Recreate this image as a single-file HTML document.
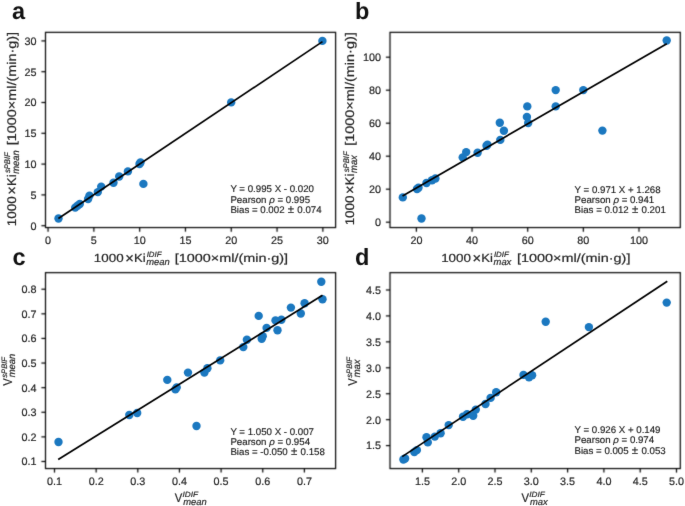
<!DOCTYPE html>
<html><head><meta charset="utf-8"><style>
html,body{margin:0;padding:0;background:#fff;}
svg{display:block;will-change:transform;}
text{text-rendering:geometricPrecision;font-family:"Liberation Sans", sans-serif;fill:#262626;stroke:#262626;stroke-width:0.2px;}
.tk{font-size:10.8px;}
.ann{font-size:9.7px;fill:#1a1a1a;stroke:#1a1a1a;stroke-width:0.15px;}
.pl{font-size:23.5px;font-weight:bold;fill:#111;stroke:none;}
.al{font-size:12.2px;}
.ss{font-size:8.0px;font-style:italic;}
.ss2{font-size:9.6px;font-style:italic;}
</style></head><body>
<svg xmlns="http://www.w3.org/2000/svg" width="685" height="506" viewBox="0 0 685 506">
<defs><filter id="bl" x="0" y="0" width="685" height="506" filterUnits="userSpaceOnUse" color-interpolation-filters="sRGB"><feConvolveMatrix order="3" kernelMatrix="0.0277 0.1110 0.0277 0.1110 0.4452 0.1110 0.0277 0.1110 0.0277" edgeMode="duplicate"/></filter>
<filter id="bt" x="0" y="0" width="685" height="506" filterUnits="userSpaceOnUse" color-interpolation-filters="sRGB"><feConvolveMatrix order="3" kernelMatrix="0.0052 0.0619 0.0052 0.0619 0.7314 0.0619 0.0052 0.0619 0.0052" edgeMode="none"/></filter></defs>
<g filter="url(#bl)">
<rect width="685" height="506" fill="#fff"/>
<rect x="45.5" y="32.35" width="290.1" height="195.2" fill="none" stroke="#000" stroke-width="1.2"/>
<line x1="48.06" y1="227.55" x2="48.06" y2="231.65" stroke="#000" stroke-width="1.2"/>
<line x1="93.86" y1="227.55" x2="93.86" y2="231.65" stroke="#000" stroke-width="1.2"/>
<line x1="139.66" y1="227.55" x2="139.66" y2="231.65" stroke="#000" stroke-width="1.2"/>
<line x1="185.46" y1="227.55" x2="185.46" y2="231.65" stroke="#000" stroke-width="1.2"/>
<line x1="231.26" y1="227.55" x2="231.26" y2="231.65" stroke="#000" stroke-width="1.2"/>
<line x1="277.06" y1="227.55" x2="277.06" y2="231.65" stroke="#000" stroke-width="1.2"/>
<line x1="322.86" y1="227.55" x2="322.86" y2="231.65" stroke="#000" stroke-width="1.2"/>
<line x1="41.40" y1="225.70" x2="45.5" y2="225.70" stroke="#000" stroke-width="1.2"/>
<line x1="41.40" y1="194.90" x2="45.5" y2="194.90" stroke="#000" stroke-width="1.2"/>
<line x1="41.40" y1="164.10" x2="45.5" y2="164.10" stroke="#000" stroke-width="1.2"/>
<line x1="41.40" y1="133.30" x2="45.5" y2="133.30" stroke="#000" stroke-width="1.2"/>
<line x1="41.40" y1="102.50" x2="45.5" y2="102.50" stroke="#000" stroke-width="1.2"/>
<line x1="41.40" y1="71.70" x2="45.5" y2="71.70" stroke="#000" stroke-width="1.2"/>
<line x1="41.40" y1="40.90" x2="45.5" y2="40.90" stroke="#000" stroke-width="1.2"/>
<rect x="390.0" y="32.35" width="290.3" height="195.2" fill="none" stroke="#000" stroke-width="1.2"/>
<line x1="416.40" y1="227.55" x2="416.40" y2="231.65" stroke="#000" stroke-width="1.2"/>
<line x1="472.05" y1="227.55" x2="472.05" y2="231.65" stroke="#000" stroke-width="1.2"/>
<line x1="527.70" y1="227.55" x2="527.70" y2="231.65" stroke="#000" stroke-width="1.2"/>
<line x1="583.35" y1="227.55" x2="583.35" y2="231.65" stroke="#000" stroke-width="1.2"/>
<line x1="639.00" y1="227.55" x2="639.00" y2="231.65" stroke="#000" stroke-width="1.2"/>
<line x1="385.90" y1="222.20" x2="390.0" y2="222.20" stroke="#000" stroke-width="1.2"/>
<line x1="385.90" y1="189.20" x2="390.0" y2="189.20" stroke="#000" stroke-width="1.2"/>
<line x1="385.90" y1="156.20" x2="390.0" y2="156.20" stroke="#000" stroke-width="1.2"/>
<line x1="385.90" y1="123.20" x2="390.0" y2="123.20" stroke="#000" stroke-width="1.2"/>
<line x1="385.90" y1="90.20" x2="390.0" y2="90.20" stroke="#000" stroke-width="1.2"/>
<line x1="385.90" y1="57.20" x2="390.0" y2="57.20" stroke="#000" stroke-width="1.2"/>
<rect x="45.5" y="272.65" width="290.1" height="195.9" fill="none" stroke="#000" stroke-width="1.2"/>
<line x1="54.50" y1="468.5" x2="54.50" y2="472.60" stroke="#000" stroke-width="1.2"/>
<line x1="96.15" y1="468.5" x2="96.15" y2="472.60" stroke="#000" stroke-width="1.2"/>
<line x1="137.80" y1="468.5" x2="137.80" y2="472.60" stroke="#000" stroke-width="1.2"/>
<line x1="179.45" y1="468.5" x2="179.45" y2="472.60" stroke="#000" stroke-width="1.2"/>
<line x1="221.10" y1="468.5" x2="221.10" y2="472.60" stroke="#000" stroke-width="1.2"/>
<line x1="262.75" y1="468.5" x2="262.75" y2="472.60" stroke="#000" stroke-width="1.2"/>
<line x1="304.40" y1="468.5" x2="304.40" y2="472.60" stroke="#000" stroke-width="1.2"/>
<line x1="41.40" y1="461.49" x2="45.5" y2="461.49" stroke="#000" stroke-width="1.2"/>
<line x1="41.40" y1="436.88" x2="45.5" y2="436.88" stroke="#000" stroke-width="1.2"/>
<line x1="41.40" y1="412.27" x2="45.5" y2="412.27" stroke="#000" stroke-width="1.2"/>
<line x1="41.40" y1="387.66" x2="45.5" y2="387.66" stroke="#000" stroke-width="1.2"/>
<line x1="41.40" y1="363.05" x2="45.5" y2="363.05" stroke="#000" stroke-width="1.2"/>
<line x1="41.40" y1="338.44" x2="45.5" y2="338.44" stroke="#000" stroke-width="1.2"/>
<line x1="41.40" y1="313.83" x2="45.5" y2="313.83" stroke="#000" stroke-width="1.2"/>
<line x1="41.40" y1="289.22" x2="45.5" y2="289.22" stroke="#000" stroke-width="1.2"/>
<rect x="390.0" y="272.65" width="290.3" height="195.9" fill="none" stroke="#000" stroke-width="1.2"/>
<line x1="422.40" y1="468.5" x2="422.40" y2="472.60" stroke="#000" stroke-width="1.2"/>
<line x1="458.70" y1="468.5" x2="458.70" y2="472.60" stroke="#000" stroke-width="1.2"/>
<line x1="495.00" y1="468.5" x2="495.00" y2="472.60" stroke="#000" stroke-width="1.2"/>
<line x1="531.30" y1="468.5" x2="531.30" y2="472.60" stroke="#000" stroke-width="1.2"/>
<line x1="567.60" y1="468.5" x2="567.60" y2="472.60" stroke="#000" stroke-width="1.2"/>
<line x1="603.90" y1="468.5" x2="603.90" y2="472.60" stroke="#000" stroke-width="1.2"/>
<line x1="640.20" y1="468.5" x2="640.20" y2="472.60" stroke="#000" stroke-width="1.2"/>
<line x1="676.50" y1="468.5" x2="676.50" y2="472.60" stroke="#000" stroke-width="1.2"/>
<line x1="385.90" y1="445.59" x2="390.0" y2="445.59" stroke="#000" stroke-width="1.2"/>
<line x1="385.90" y1="419.66" x2="390.0" y2="419.66" stroke="#000" stroke-width="1.2"/>
<line x1="385.90" y1="393.73" x2="390.0" y2="393.73" stroke="#000" stroke-width="1.2"/>
<line x1="385.90" y1="367.79" x2="390.0" y2="367.79" stroke="#000" stroke-width="1.2"/>
<line x1="385.90" y1="341.86" x2="390.0" y2="341.86" stroke="#000" stroke-width="1.2"/>
<line x1="385.90" y1="315.92" x2="390.0" y2="315.92" stroke="#000" stroke-width="1.2"/>
<line x1="385.90" y1="289.99" x2="390.0" y2="289.99" stroke="#000" stroke-width="1.2"/>
</g>
<g filter="url(#bt)">
<circle cx="58.5" cy="218.5" r="4.2" fill="#1b78c0" class="pt"/>
<circle cx="75.2" cy="207.6" r="4.2" fill="#1b78c0" class="pt"/>
<circle cx="77.5" cy="205.8" r="4.2" fill="#1b78c0" class="pt"/>
<circle cx="79.8" cy="204.0" r="4.2" fill="#1b78c0" class="pt"/>
<circle cx="88.1" cy="199.0" r="4.2" fill="#1b78c0" class="pt"/>
<circle cx="89.5" cy="195.6" r="4.2" fill="#1b78c0" class="pt"/>
<circle cx="97.8" cy="192.1" r="4.2" fill="#1b78c0" class="pt"/>
<circle cx="101.2" cy="186.6" r="4.2" fill="#1b78c0" class="pt"/>
<circle cx="113.5" cy="182.8" r="4.2" fill="#1b78c0" class="pt"/>
<circle cx="119.2" cy="176.5" r="4.2" fill="#1b78c0" class="pt"/>
<circle cx="127.9" cy="171.4" r="4.2" fill="#1b78c0" class="pt"/>
<circle cx="139.5" cy="164.0" r="4.2" fill="#1b78c0" class="pt"/>
<circle cx="140.5" cy="162.5" r="4.2" fill="#1b78c0" class="pt"/>
<circle cx="143.4" cy="183.9" r="4.2" fill="#1b78c0" class="pt"/>
<circle cx="231.2" cy="102.4" r="4.2" fill="#1b78c0" class="pt"/>
<circle cx="322.4" cy="40.9" r="4.2" fill="#1b78c0" class="pt"/>
<line x1="58.4" y1="218.5" x2="322.5" y2="41.6" stroke="#000" stroke-width="1.7" stroke-linecap="butt" class="rl"/>
<text x="48.06" y="244.15" text-anchor="middle" class="tk">0</text>
<text x="93.86" y="244.15" text-anchor="middle" class="tk">5</text>
<text x="139.66" y="244.15" text-anchor="middle" class="tk">10</text>
<text x="185.46" y="244.15" text-anchor="middle" class="tk">15</text>
<text x="231.26" y="244.15" text-anchor="middle" class="tk">20</text>
<text x="277.06" y="244.15" text-anchor="middle" class="tk">25</text>
<text x="322.86" y="244.15" text-anchor="middle" class="tk">30</text>
<text x="36.50" y="229.60" text-anchor="end" class="tk">0</text>
<text x="36.50" y="198.80" text-anchor="end" class="tk">5</text>
<text x="36.50" y="168.00" text-anchor="end" class="tk">10</text>
<text x="36.50" y="137.20" text-anchor="end" class="tk">15</text>
<text x="36.50" y="106.40" text-anchor="end" class="tk">20</text>
<text x="36.50" y="75.60" text-anchor="end" class="tk">25</text>
<text x="36.50" y="44.80" text-anchor="end" class="tk">30</text>
<text x="230.4" y="191.7" class="ann">Y = 0.995 X - 0.020</text>
<text x="230.4" y="202.5" class="ann">Pearson <tspan font-style="italic">ρ</tspan> = 0.995</text>
<text x="230.4" y="213.0" class="ann">Bias = 0.002 <tspan dx="0.5" style="font-size:11.5px">±</tspan> <tspan dx="0.6">0.074</tspan></text>
<circle cx="402.8" cy="197.4" r="4.2" fill="#1b78c0" class="pt"/>
<circle cx="421.5" cy="218.5" r="4.2" fill="#1b78c0" class="pt"/>
<circle cx="418.5" cy="187.8" r="4.2" fill="#1b78c0" class="pt"/>
<circle cx="417.0" cy="189.0" r="4.2" fill="#1b78c0" class="pt"/>
<circle cx="426.5" cy="183.0" r="4.2" fill="#1b78c0" class="pt"/>
<circle cx="432.0" cy="180.2" r="4.2" fill="#1b78c0" class="pt"/>
<circle cx="435.4" cy="178.5" r="4.2" fill="#1b78c0" class="pt"/>
<circle cx="462.7" cy="157.4" r="4.2" fill="#1b78c0" class="pt"/>
<circle cx="466.2" cy="152.1" r="4.2" fill="#1b78c0" class="pt"/>
<circle cx="477.6" cy="152.8" r="4.2" fill="#1b78c0" class="pt"/>
<circle cx="486.5" cy="145.8" r="4.2" fill="#1b78c0" class="pt"/>
<circle cx="487.5" cy="144.6" r="4.2" fill="#1b78c0" class="pt"/>
<circle cx="500.3" cy="139.9" r="4.2" fill="#1b78c0" class="pt"/>
<circle cx="503.9" cy="130.7" r="4.2" fill="#1b78c0" class="pt"/>
<circle cx="499.8" cy="122.7" r="4.2" fill="#1b78c0" class="pt"/>
<circle cx="527.3" cy="106.4" r="4.2" fill="#1b78c0" class="pt"/>
<circle cx="526.9" cy="116.9" r="4.2" fill="#1b78c0" class="pt"/>
<circle cx="528.2" cy="123.0" r="4.2" fill="#1b78c0" class="pt"/>
<circle cx="555.7" cy="90.1" r="4.2" fill="#1b78c0" class="pt"/>
<circle cx="555.7" cy="106.4" r="4.2" fill="#1b78c0" class="pt"/>
<circle cx="583.3" cy="90.1" r="4.2" fill="#1b78c0" class="pt"/>
<circle cx="602.4" cy="130.6" r="4.2" fill="#1b78c0" class="pt"/>
<circle cx="666.7" cy="40.5" r="4.2" fill="#1b78c0" class="pt"/>
<line x1="402.5" y1="196.1" x2="666.8" y2="43.7" stroke="#000" stroke-width="1.7" stroke-linecap="butt" class="rl"/>
<text x="416.40" y="244.15" text-anchor="middle" class="tk">20</text>
<text x="472.05" y="244.15" text-anchor="middle" class="tk">40</text>
<text x="527.70" y="244.15" text-anchor="middle" class="tk">60</text>
<text x="583.35" y="244.15" text-anchor="middle" class="tk">80</text>
<text x="639.00" y="244.15" text-anchor="middle" class="tk">100</text>
<text x="381.00" y="226.10" text-anchor="end" class="tk">0</text>
<text x="381.00" y="193.10" text-anchor="end" class="tk">20</text>
<text x="381.00" y="160.10" text-anchor="end" class="tk">40</text>
<text x="381.00" y="127.10" text-anchor="end" class="tk">60</text>
<text x="381.00" y="94.10" text-anchor="end" class="tk">80</text>
<text x="381.00" y="61.10" text-anchor="end" class="tk">100</text>
<text x="574.6" y="192.6" class="ann">Y = 0.971 X + 1.268</text>
<text x="574.6" y="202.6" class="ann">Pearson <tspan font-style="italic">ρ</tspan> = 0.941</text>
<text x="574.6" y="212.8" class="ann">Bias = 0.012 <tspan dx="0.5" style="font-size:11.5px">±</tspan> <tspan dx="0.6">0.201</tspan></text>
<circle cx="58.5" cy="442.0" r="4.2" fill="#1b78c0" class="pt"/>
<circle cx="129.3" cy="415.0" r="4.2" fill="#1b78c0" class="pt"/>
<circle cx="137.2" cy="413.0" r="4.2" fill="#1b78c0" class="pt"/>
<circle cx="167.3" cy="379.9" r="4.2" fill="#1b78c0" class="pt"/>
<circle cx="175.4" cy="389.4" r="4.2" fill="#1b78c0" class="pt"/>
<circle cx="176.7" cy="387.4" r="4.2" fill="#1b78c0" class="pt"/>
<circle cx="188.0" cy="372.6" r="4.2" fill="#1b78c0" class="pt"/>
<circle cx="204.4" cy="372.6" r="4.2" fill="#1b78c0" class="pt"/>
<circle cx="207.4" cy="368.3" r="4.2" fill="#1b78c0" class="pt"/>
<circle cx="196.5" cy="426.0" r="4.2" fill="#1b78c0" class="pt"/>
<circle cx="220.2" cy="360.4" r="4.2" fill="#1b78c0" class="pt"/>
<circle cx="243.3" cy="347.1" r="4.2" fill="#1b78c0" class="pt"/>
<circle cx="246.9" cy="339.8" r="4.2" fill="#1b78c0" class="pt"/>
<circle cx="258.7" cy="315.9" r="4.2" fill="#1b78c0" class="pt"/>
<circle cx="261.7" cy="338.8" r="4.2" fill="#1b78c0" class="pt"/>
<circle cx="262.7" cy="336.2" r="4.2" fill="#1b78c0" class="pt"/>
<circle cx="266.6" cy="327.9" r="4.2" fill="#1b78c0" class="pt"/>
<circle cx="275.5" cy="320.4" r="4.2" fill="#1b78c0" class="pt"/>
<circle cx="277.5" cy="330.3" r="4.2" fill="#1b78c0" class="pt"/>
<circle cx="281.4" cy="319.8" r="4.2" fill="#1b78c0" class="pt"/>
<circle cx="290.9" cy="307.6" r="4.2" fill="#1b78c0" class="pt"/>
<circle cx="300.8" cy="313.5" r="4.2" fill="#1b78c0" class="pt"/>
<circle cx="304.6" cy="303.2" r="4.2" fill="#1b78c0" class="pt"/>
<circle cx="321.3" cy="281.8" r="4.2" fill="#1b78c0" class="pt"/>
<circle cx="322.5" cy="299.3" r="4.2" fill="#1b78c0" class="pt"/>
<line x1="58.2" y1="459.5" x2="322.5" y2="295.2" stroke="#000" stroke-width="1.7" stroke-linecap="butt" class="rl"/>
<text x="54.50" y="485.10" text-anchor="middle" class="tk">0.1</text>
<text x="96.15" y="485.10" text-anchor="middle" class="tk">0.2</text>
<text x="137.80" y="485.10" text-anchor="middle" class="tk">0.3</text>
<text x="179.45" y="485.10" text-anchor="middle" class="tk">0.4</text>
<text x="221.10" y="485.10" text-anchor="middle" class="tk">0.5</text>
<text x="262.75" y="485.10" text-anchor="middle" class="tk">0.6</text>
<text x="304.40" y="485.10" text-anchor="middle" class="tk">0.7</text>
<text x="36.50" y="465.39" text-anchor="end" class="tk">0.1</text>
<text x="36.50" y="440.78" text-anchor="end" class="tk">0.2</text>
<text x="36.50" y="416.17" text-anchor="end" class="tk">0.3</text>
<text x="36.50" y="391.56" text-anchor="end" class="tk">0.4</text>
<text x="36.50" y="366.95" text-anchor="end" class="tk">0.5</text>
<text x="36.50" y="342.34" text-anchor="end" class="tk">0.6</text>
<text x="36.50" y="317.73" text-anchor="end" class="tk">0.7</text>
<text x="36.50" y="293.12" text-anchor="end" class="tk">0.8</text>
<text x="230.4" y="434.5" class="ann">Y = 1.050 X - 0.007</text>
<text x="230.4" y="444.6" class="ann">Pearson <tspan font-style="italic">ρ</tspan> = 0.954</text>
<text x="230.4" y="454.5" class="ann">Bias = -0.050 <tspan dx="0.5" style="font-size:11.5px">±</tspan> <tspan dx="0.6">0.158</tspan></text>
<circle cx="403.4" cy="459.5" r="4.2" fill="#1b78c0" class="pt"/>
<circle cx="405.1" cy="458.5" r="4.2" fill="#1b78c0" class="pt"/>
<circle cx="414.3" cy="452.1" r="4.2" fill="#1b78c0" class="pt"/>
<circle cx="416.9" cy="450.1" r="4.2" fill="#1b78c0" class="pt"/>
<circle cx="426.5" cy="437.3" r="4.2" fill="#1b78c0" class="pt"/>
<circle cx="427.8" cy="442.4" r="4.2" fill="#1b78c0" class="pt"/>
<circle cx="434.8" cy="436.6" r="4.2" fill="#1b78c0" class="pt"/>
<circle cx="440.6" cy="433.2" r="4.2" fill="#1b78c0" class="pt"/>
<circle cx="448.7" cy="425.1" r="4.2" fill="#1b78c0" class="pt"/>
<circle cx="463.0" cy="416.8" r="4.2" fill="#1b78c0" class="pt"/>
<circle cx="467.1" cy="414.2" r="4.2" fill="#1b78c0" class="pt"/>
<circle cx="473.2" cy="415.8" r="4.2" fill="#1b78c0" class="pt"/>
<circle cx="475.8" cy="409.6" r="4.2" fill="#1b78c0" class="pt"/>
<circle cx="485.5" cy="404.0" r="4.2" fill="#1b78c0" class="pt"/>
<circle cx="490.6" cy="397.9" r="4.2" fill="#1b78c0" class="pt"/>
<circle cx="496.2" cy="392.3" r="4.2" fill="#1b78c0" class="pt"/>
<circle cx="523.5" cy="374.9" r="4.2" fill="#1b78c0" class="pt"/>
<circle cx="529.0" cy="377.3" r="4.2" fill="#1b78c0" class="pt"/>
<circle cx="532.1" cy="375.2" r="4.2" fill="#1b78c0" class="pt"/>
<circle cx="545.7" cy="321.8" r="4.2" fill="#1b78c0" class="pt"/>
<circle cx="588.9" cy="327.1" r="4.2" fill="#1b78c0" class="pt"/>
<circle cx="666.7" cy="302.6" r="4.2" fill="#1b78c0" class="pt"/>
<line x1="402.2" y1="456.6" x2="667.3" y2="281.3" stroke="#000" stroke-width="1.7" stroke-linecap="butt" class="rl"/>
<text x="422.40" y="485.10" text-anchor="middle" class="tk">1.5</text>
<text x="458.70" y="485.10" text-anchor="middle" class="tk">2.0</text>
<text x="495.00" y="485.10" text-anchor="middle" class="tk">2.5</text>
<text x="531.30" y="485.10" text-anchor="middle" class="tk">3.0</text>
<text x="567.60" y="485.10" text-anchor="middle" class="tk">3.5</text>
<text x="603.90" y="485.10" text-anchor="middle" class="tk">4.0</text>
<text x="640.20" y="485.10" text-anchor="middle" class="tk">4.5</text>
<text x="676.50" y="485.10" text-anchor="middle" class="tk">5.0</text>
<text x="381.00" y="449.49" text-anchor="end" class="tk">1.5</text>
<text x="381.00" y="423.56" text-anchor="end" class="tk">2.0</text>
<text x="381.00" y="397.62" text-anchor="end" class="tk">2.5</text>
<text x="381.00" y="371.69" text-anchor="end" class="tk">3.0</text>
<text x="381.00" y="345.75" text-anchor="end" class="tk">3.5</text>
<text x="381.00" y="319.82" text-anchor="end" class="tk">4.0</text>
<text x="381.00" y="293.88" text-anchor="end" class="tk">4.5</text>
<text x="574.5" y="432.9" class="ann">Y = 0.926 X + 0.149</text>
<text x="574.5" y="443.3" class="ann">Pearson <tspan font-style="italic">ρ</tspan> = 0.974</text>
<text x="574.5" y="453.6" class="ann">Bias = 0.005 <tspan dx="0.5" style="font-size:11.5px">±</tspan> <tspan dx="0.6">0.053</tspan></text>
<text x="11.9" y="18.6" class="pl">a</text>
<text x="354.9" y="18.9" class="pl">b</text>
<text x="12.6" y="265.0" class="pl">c</text>
<text x="354.9" y="265.0" class="pl">d</text>
<g transform="translate(94.7,261.7)"><text x="-0.85" y="0.00" style="font-size:11.8px" textLength="29.82" lengthAdjust="spacingAndGlyphs">1000</text><text x="30.48" y="0.95" style="font-size:14.5px" textLength="8.60" lengthAdjust="spacingAndGlyphs">×</text><text x="39.29" y="0.00" style="font-size:11.8px" textLength="11.64" lengthAdjust="spacingAndGlyphs">Ki</text><text x="51.94" y="-5.00" style="font-size:7.6px;font-style:italic" textLength="14.84" lengthAdjust="spacingAndGlyphs">IDIF</text><text x="51.55" y="2.90" style="font-size:9.4px;font-style:italic" textLength="23.50" lengthAdjust="spacingAndGlyphs">mean</text><text x="79.98" y="0.00" style="font-size:11.8px" textLength="113.47" lengthAdjust="spacingAndGlyphs">[1000×ml/(min·g)]</text></g>
<g transform="translate(442.0,261.7)"><text x="-0.85" y="0.00" style="font-size:11.8px" textLength="29.82" lengthAdjust="spacingAndGlyphs">1000</text><text x="30.48" y="0.95" style="font-size:14.5px" textLength="8.60" lengthAdjust="spacingAndGlyphs">×</text><text x="39.29" y="0.00" style="font-size:11.8px" textLength="11.64" lengthAdjust="spacingAndGlyphs">Ki</text><text x="51.94" y="-5.00" style="font-size:7.6px;font-style:italic" textLength="14.84" lengthAdjust="spacingAndGlyphs">IDIF</text><text x="51.55" y="2.90" style="font-size:9.4px;font-style:italic" textLength="17.77" lengthAdjust="spacingAndGlyphs">max</text><text x="74.98" y="0.00" style="font-size:11.8px" textLength="113.47" lengthAdjust="spacingAndGlyphs">[1000×ml/(min·g)]</text></g>
<g transform="translate(174.8,502.3)"><text x="0.00" y="0.00" style="font-size:12.2px" textLength="7.53" lengthAdjust="spacingAndGlyphs">V</text><text x="7.73" y="-5.40" style="font-size:7.6px;font-style:italic" textLength="15.43" lengthAdjust="spacingAndGlyphs">IDIF</text><text x="8.35" y="2.60" style="font-size:9.4px;font-style:italic" textLength="23.50" lengthAdjust="spacingAndGlyphs">mean</text></g>
<g transform="translate(521.6,502.3)"><text x="0.00" y="0.00" style="font-size:12.2px" textLength="7.53" lengthAdjust="spacingAndGlyphs">V</text><text x="7.73" y="-5.40" style="font-size:7.6px;font-style:italic" textLength="15.43" lengthAdjust="spacingAndGlyphs">IDIF</text><text x="8.35" y="2.60" style="font-size:9.4px;font-style:italic" textLength="17.77" lengthAdjust="spacingAndGlyphs">max</text></g>
<g transform="translate(15.6,225.3) rotate(-90) scale(1,1.06)"><text x="-0.85" y="0.00" style="font-size:11.8px" textLength="29.82" lengthAdjust="spacingAndGlyphs">1000</text><text x="30.48" y="0.95" style="font-size:14.5px" textLength="8.60" lengthAdjust="spacingAndGlyphs">×</text><text x="39.29" y="0.00" style="font-size:11.8px" textLength="11.64" lengthAdjust="spacingAndGlyphs">Ki</text><text x="52.20" y="-5.00" style="font-size:7.6px;font-style:italic" textLength="20.89" lengthAdjust="spacingAndGlyphs">sPBIF</text><text x="51.55" y="2.90" style="font-size:9.4px;font-style:italic" textLength="23.50" lengthAdjust="spacingAndGlyphs">mean</text><text x="79.98" y="0.00" style="font-size:11.8px" textLength="113.47" lengthAdjust="spacingAndGlyphs">[1000×ml/(min·g)]</text></g>
<g transform="translate(354.0,224.5) rotate(-90) scale(1,1.06)"><text x="-0.85" y="0.00" style="font-size:11.8px" textLength="29.82" lengthAdjust="spacingAndGlyphs">1000</text><text x="30.48" y="0.95" style="font-size:14.5px" textLength="8.60" lengthAdjust="spacingAndGlyphs">×</text><text x="39.29" y="0.00" style="font-size:11.8px" textLength="11.64" lengthAdjust="spacingAndGlyphs">Ki</text><text x="52.20" y="-5.00" style="font-size:7.6px;font-style:italic" textLength="20.89" lengthAdjust="spacingAndGlyphs">sPBIF</text><text x="51.55" y="2.90" style="font-size:9.4px;font-style:italic" textLength="17.77" lengthAdjust="spacingAndGlyphs">max</text><text x="78.78" y="0.00" style="font-size:11.8px" textLength="113.47" lengthAdjust="spacingAndGlyphs">[1000×ml/(min·g)]</text></g>
<g transform="translate(12.1,385.7) rotate(-90) scale(1,1.04)"><text x="0.00" y="0.00" style="font-size:12.2px" textLength="7.53" lengthAdjust="spacingAndGlyphs">V</text><text x="8.00" y="-4.60" style="font-size:7.6px;font-style:italic" textLength="20.69" lengthAdjust="spacingAndGlyphs">sPBIF</text><text x="8.35" y="2.60" style="font-size:9.4px;font-style:italic" textLength="23.50" lengthAdjust="spacingAndGlyphs">mean</text></g>
<g transform="translate(357.0,385.7) rotate(-90) scale(1,1.04)"><text x="0.00" y="0.00" style="font-size:12.2px" textLength="7.53" lengthAdjust="spacingAndGlyphs">V</text><text x="8.00" y="-4.60" style="font-size:7.6px;font-style:italic" textLength="20.69" lengthAdjust="spacingAndGlyphs">sPBIF</text><text x="8.35" y="2.60" style="font-size:9.4px;font-style:italic" textLength="17.77" lengthAdjust="spacingAndGlyphs">max</text></g>
</g>
</svg>
</body></html>
